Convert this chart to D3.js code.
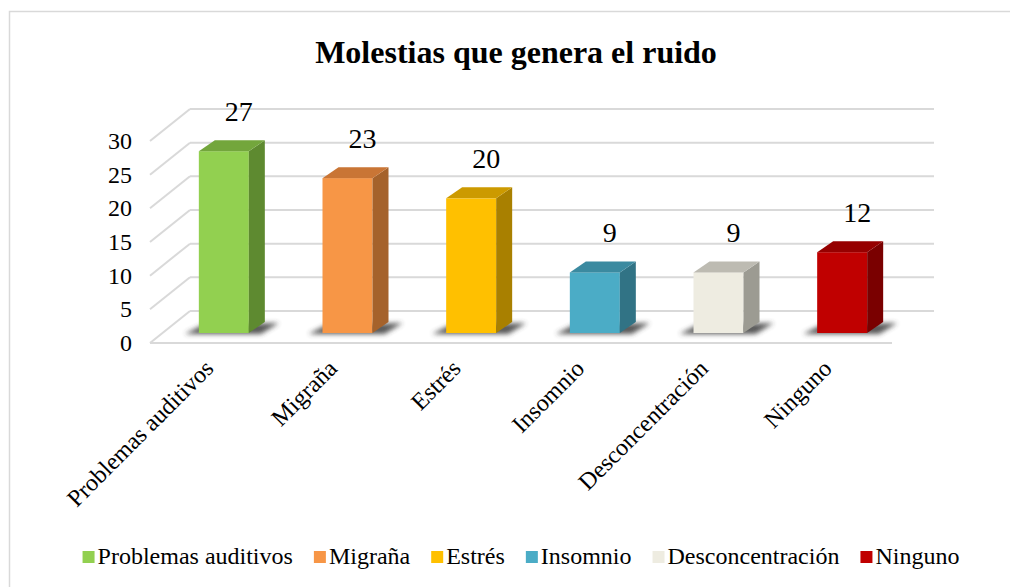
<!DOCTYPE html>
<html>
<head>
<meta charset="utf-8">
<script src="https://cdn.jsdelivr.net/npm/d3@7"></script>
<style>
  html, body { margin: 0; padding: 0; background: #fff; }
  text { font-family: "Liberation Serif", "Times New Roman", serif; }
</style>
</head>
<body>
<div id="chart"></div>
<script>
// Molestias que genera el ruido - 3D column chart

const categories = ["Problemas auditivos", "Migraña", "Estrés", "Insomnio", "Desconcentración", "Ninguno"];
const values = [27, 23, 20, 9, 9, 12];
const yTicks = [0, 5, 10, 15, 20, 25, 30];
const frontColors = ["#92d050", "#f79646", "#ffc000", "#4bacc6", "#eeece1", "#c00000"];
const sideColors = ["#5e8a30", "#a5622b", "#a98000", "#317385", "#9c9b92", "#7a0000"];
const topColors = ["#73a63c", "#c97535", "#cc9a00", "#3b8aa0", "#bdbbb2", "#960000"];

const WIDTH = 1010;
const HEIGHT = 587;
const FONT = "Liberation Serif";

// plot geometry (front plane)
const X0 = 150, X1 = 892;
const BACK = { dx: 40, dy: -32 };
const BAR_OFF = { dx: 12, dy: -10 };
const BAR_DEPTH = { dx: 16, dy: -11 };
const BAR_W = 50;

const svg = d3.select("#chart")
  .append("svg")
  .attr("width", WIDTH)
  .attr("height", HEIGHT)
  .attr("font-family", FONT)
  .attr("viewBox", `0 0 ${WIDTH} ${HEIGHT}`);

const defs = svg.append("defs");
defs.append("filter")
  .attr("id", "shadowBlur")
  .attr("x", "-50%").attr("y", "-100%").attr("width", "200%").attr("height", "300%")
  .append("feGaussianBlur").attr("stdDeviation", 2.5);

// outer frame
svg.append("rect")
  .attr("x", 9.5).attr("y", 11.5)
  .attr("width", 1020).attr("height", 600)
  .attr("fill", "#fff")
  .attr("stroke", "#d9d9d9")
  .attr("stroke-width", 1.5);

const y = d3.scaleLinear().domain([0, 30]).range([343, 141]);
const x = d3.scaleBand().domain(categories).range([X0, X1]);

// gridlines: back wall + left wall diagonals
const grid = svg.append("g").attr("class", "grid")
  .attr("stroke", "#d9d9d9").attr("stroke-width", 2).attr("fill", "none");

grid.selectAll("line.back")
  .data(yTicks)
  .enter()
  .append("line")
  .attr("class", "back")
  .attr("x1", X0 + BACK.dx).attr("x2", X1 + BACK.dx + 2)
  .attr("y1", d => y(d) + BACK.dy).attr("y2", d => y(d) + BACK.dy);

grid.selectAll("line.diag")
  .data(yTicks)
  .enter()
  .append("line")
  .attr("class", "diag")
  .attr("x1", X0).attr("y1", d => y(d))
  .attr("x2", X0 + BACK.dx).attr("y2", d => y(d) + BACK.dy);

grid.append("line")
  .attr("x1", X0).attr("x2", X1)
  .attr("y1", y(0)).attr("y2", y(0));

// y tick labels
svg.append("g")
  .selectAll("text")
  .data(yTicks)
  .enter()
  .append("text")
  .attr("x", 132)
  .attr("y", d => y(d) + 8)
  .attr("text-anchor", "end")
  .attr("font-family", FONT)
  .attr("font-size", 24)
  .attr("fill", "#000")
  .text(d => d);

const rows = categories.map((c, i) => ({ cat: c, value: values[i], i }));
const barX = d => x(d.cat) + x.bandwidth() / 2 - BAR_W / 2 + BAR_OFF.dx;
const barBottom = y(0) + BAR_OFF.dy;
const barTop = d => y(d.value) + BAR_OFF.dy;

// shadows
svg.append("g")
  .selectAll("polygon")
  .data(rows)
  .enter()
  .append("polygon")
  .attr("filter", "url(#shadowBlur)")
  .attr("fill", "#3a3a3a")
  .attr("opacity", 0.85)
  .attr("points", d => {
    const a = barX(d), b = a + BAR_W;
    return [[a - 14, barBottom + 1], [a + 4, barBottom - 8], [b + 30, barBottom - 10], [b + 12, barBottom + 1]]
      .map(p => p.join(",")).join(" ");
  });

const bars = svg.append("g").attr("class", "bars")
  .selectAll("g")
  .data(rows)
  .enter()
  .append("g");

bars.append("rect")
  .attr("x", barX)
  .attr("y", barTop)
  .attr("width", BAR_W)
  .attr("height", d => barBottom - barTop(d))
  .attr("fill", d => frontColors[d.i]);

bars.append("polygon")
  .attr("fill", d => sideColors[d.i])
  .attr("points", d => {
    const b = barX(d) + BAR_W, t = barTop(d);
    return [[b, t], [b + BAR_DEPTH.dx, t + BAR_DEPTH.dy], [b + BAR_DEPTH.dx, barBottom + BAR_DEPTH.dy], [b, barBottom]]
      .map(p => p.join(",")).join(" ");
  });

bars.append("polygon")
  .attr("fill", d => topColors[d.i])
  .attr("points", d => {
    const a = barX(d), t = barTop(d);
    return [[a, t], [a + BAR_DEPTH.dx, t + BAR_DEPTH.dy], [a + BAR_W + BAR_DEPTH.dx, t + BAR_DEPTH.dy], [a + BAR_W, t]]
      .map(p => p.join(",")).join(" ");
  });

// value labels
svg.append("g")
  .selectAll("text")
  .data(rows)
  .enter()
  .append("text")
  .attr("x", d => barX(d) + BAR_W / 2 + 15)
  .attr("y", d => barTop(d) - 30)
  .attr("text-anchor", "middle")
  .attr("font-family", FONT)
  .attr("font-size", 28)
  .attr("fill", "#000")
  .text(d => d.value);

// category labels, rotated
svg.append("g")
  .selectAll("text")
  .data(rows)
  .enter()
  .append("text")
  .attr("transform", d => `translate(${x(d.cat) + x.bandwidth() / 2 + 3},${370}) rotate(-45)`)
  .attr("text-anchor", "end")
  .attr("font-family", FONT)
  .attr("font-size", 24)
  .attr("fill", "#000")
  .text(d => d.cat);

// title
svg.append("text")
  .attr("x", 516)
  .attr("y", 63)
  .attr("text-anchor", "middle")
  .attr("font-family", FONT)
  .attr("font-size", 32)
  .attr("font-weight", "bold")
  .attr("fill", "#000")
  .text("Molestias que genera el ruido");

// legend
const legend = svg.append("g").attr("class", "legend");
const items = legend.selectAll("g")
  .data(rows)
  .enter()
  .append("g");
items.append("rect")
  .attr("width", 12).attr("height", 12)
  .attr("y", -13)
  .attr("fill", d => frontColors[d.i]);
items.append("text")
  .attr("x", 15)
  .attr("font-family", FONT)
  .attr("font-size", 24)
  .attr("fill", "#000")
  .text(d => d.cat);

const GAP = 21;
let cursor = 0;
items.each(function () {
  const g = d3.select(this);
  g.attr("transform", `translate(${cursor},0)`);
  cursor += 15 + g.select("text").node().getComputedTextLength() + GAP;
});
const legendW = cursor - GAP;
legend.attr("transform", `translate(${521 - legendW / 2},${564})`);
</script>
</body>
</html>
